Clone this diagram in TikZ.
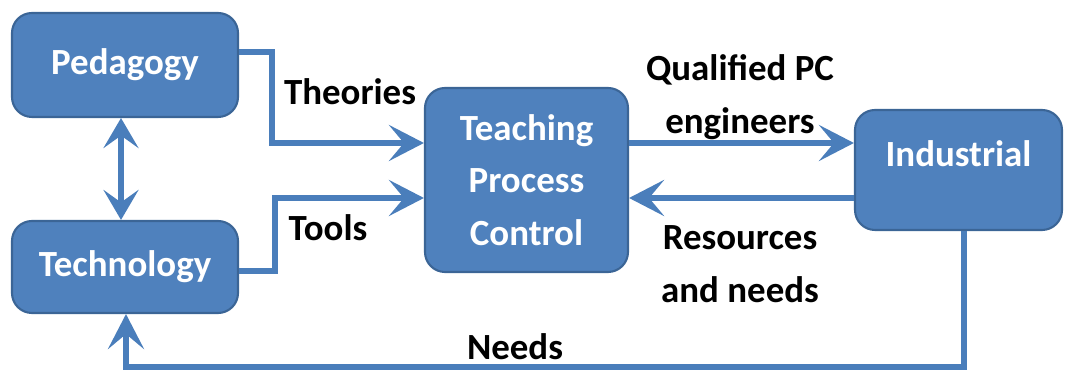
\documentclass[tikz,border=0pt]{standalone}
\usepackage{fontspec}
\setmainfont{Carlito}
\usetikzlibrary{arrows.meta}
\definecolor{boxblue}{HTML}{4F81BD}
\definecolor{boxline}{HTML}{3B6596}
\definecolor{flowblue}{HTML}{4A7EBB}
\tikzset{
	box/.style={draw=boxline, line width=1.2pt, fill=boxblue, rounded corners=4mm, text=white, align=center, inner sep=0pt, font=\fontsize{21}{30}\selectfont\bfseries},
	flow/.style={draw=flowblue, line width=0.12cm, -{Stealth[length=7mm, width=7.2mm, inset=3mm]}},
	lbl/.style={align=center, inner sep=0pt, font=\fontsize{21}{30}\selectfont\bfseries}
}
\begin{document}
\begin{tikzpicture}
	\useasboundingbox (0, 0) rectangle (21.3, 7.4);

	\node[box, minimum width=4.52cm, minimum height=2.08cm] (ped) at (2.5, 6.1) {Pedagogy};
	\node[box, minimum width=4.52cm, minimum height=1.84cm] (tec) at (2.5, 2.06) {Technology};
	\node[box, minimum width=4.06cm, minimum height=3.68cm] (tpc) at (10.53, 3.8) {Teaching\\Process\\Control};
	\node[box, minimum width=4.14cm, minimum height=2.4cm, text depth=0.65cm] (ind) at (19.17, 4.0) {Industrial};

	\coordinate (thy) at (5.44, 4.54);
	\coordinate (tol) at (5.5, 3.44);
	\coordinate (ndl) at (2.52, 0.06);

	\draw[flow, {Stealth[length=6mm, width=7mm, inset=2.5mm]}-{Stealth[length=6mm, width=7mm, inset=2.5mm]}] ([xshift=-0.8mm]ped.south) -- ([xshift=-0.8mm]tec.north);
	\draw[flow] ([yshift=2.6mm]ped.east) -| (thy) -- (thy -| tpc.west);
	\draw[flow] ([yshift=-0.8mm]tec.east) -| (tol) -- (tol -| tpc.west);
	\draw[flow] (thy -| tpc.east) -- (thy -| ind.west);
	\draw[flow] (tol -| ind.west) -- (tol -| tpc.east);
	\draw[flow] ([xshift=1.1mm]ind.south) |- (ndl) -- (ndl |- tec.south);

	\node[lbl] (theories) at (7.0, 5.56) {Theories};
	\node[lbl] (tools) at (6.56, 2.84) {Tools};
	\node[lbl] (qual) at (14.8, 5.46) {Qualified PC\\engineers};
	\node[lbl] (res) at (14.8, 2.12) {Resources\\and needs};
	\node[lbl] (needs) at (10.3, 0.46) {Needs};
\end{tikzpicture}
\end{document}
